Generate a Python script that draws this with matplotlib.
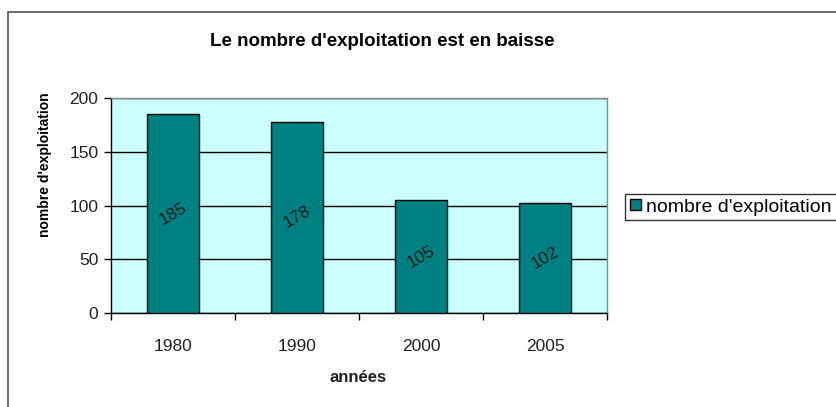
import matplotlib.pyplot as plt
from matplotlib.patches import Rectangle
import numpy as np

years = ['1980', '1990', '2000', '2005']
counts = [185, 178, 105, 102]
yticks = [0, 50, 100, 150, 200]

plt.rcParams['font.family'] = ['Liberation Sans', 'DejaVu Sans']


def plot_exploitations():
    fig = plt.figure(figsize=(8.37, 4.07), dpi=100)
    fig.patch.set_facecolor('white')

    # outer chart frame, runs off the right and bottom edges
    fig.patches.append(Rectangle((8 / 837, -0.1), 1.2, 1.1 - 12 / 407,
                                 transform=fig.transFigure, fill=False,
                                 edgecolor='#555555', linewidth=1.2,
                                 clip_on=False))

    ax = fig.add_axes([111 / 837, 94 / 407, 496 / 837, 215 / 407])
    ax.set_facecolor('#CCFFFF')

    x = np.arange(len(years))
    bars = ax.bar(x, counts, width=0.42, color='#008080',
                  edgecolor='black', linewidth=1, zorder=3,
                  label="nombre d'exploitation")
    for b, v in zip(bars, counts):
        ax.text(b.get_x() + b.get_width() / 2, v / 2, str(v),
                rotation=30, ha='center', va='center',
                fontsize=12.5, color='#1a1a1a', zorder=4)

    ax.set_xlim(-0.5, len(years) - 0.5)
    ax.set_ylim(0, 200)
    ax.set_yticks(yticks)
    ax.set_yticklabels([str(t) for t in yticks], fontsize=12.5, color='#222222')
    ax.yaxis.grid(True, color='black', linewidth=1, zorder=1)
    ax.set_axisbelow(True)

    ax.set_xticks(x)
    ax.set_xticklabels(years, fontsize=12.5, color='#222222')
    ax.set_xticks(np.arange(len(years) + 1) - 0.5, minor=True)
    ax.tick_params(axis='x', which='major', length=0, pad=19)
    ax.tick_params(axis='x', which='minor', length=5, width=1, direction='out')
    ax.tick_params(axis='y', length=5, width=1, direction='out', pad=4)

    for s in ['left', 'bottom']:
        ax.spines[s].set_color('black')
        ax.spines[s].set_linewidth(1)
    for s in ['top', 'right']:
        ax.spines[s].set_color('#888888')
        ax.spines[s].set_linewidth(1)

    fig.text(358 / 837, 1 - 378 / 407, 'années', ha='center', va='center',
             fontsize=12, fontweight='bold', color='#222222')
    fig.text(45 / 837, 1 - 165 / 407, "nombre d'exploitation", ha='center',
             va='center', rotation=90, fontsize=10, fontweight='bold')
    fig.text(382 / 837, 1 - 42 / 407, "Le nombre d'exploitation est en baisse",
             ha='center', va='center', fontsize=13.5, fontweight='bold')

    leg = fig.legend(loc='center left', bbox_to_anchor=(625 / 837, 1 - 207 / 407),
                     fontsize=14, frameon=True, fancybox=False,
                     handlelength=0.55, handleheight=0.55, handletextpad=0.3,
                     borderpad=0.25, borderaxespad=0)
    leg.get_frame().set_edgecolor('black')
    leg.get_frame().set_linewidth(1)

    fig.savefig('out.png', dpi=100)


if __name__ == '__main__':
    plot_exploitations()
